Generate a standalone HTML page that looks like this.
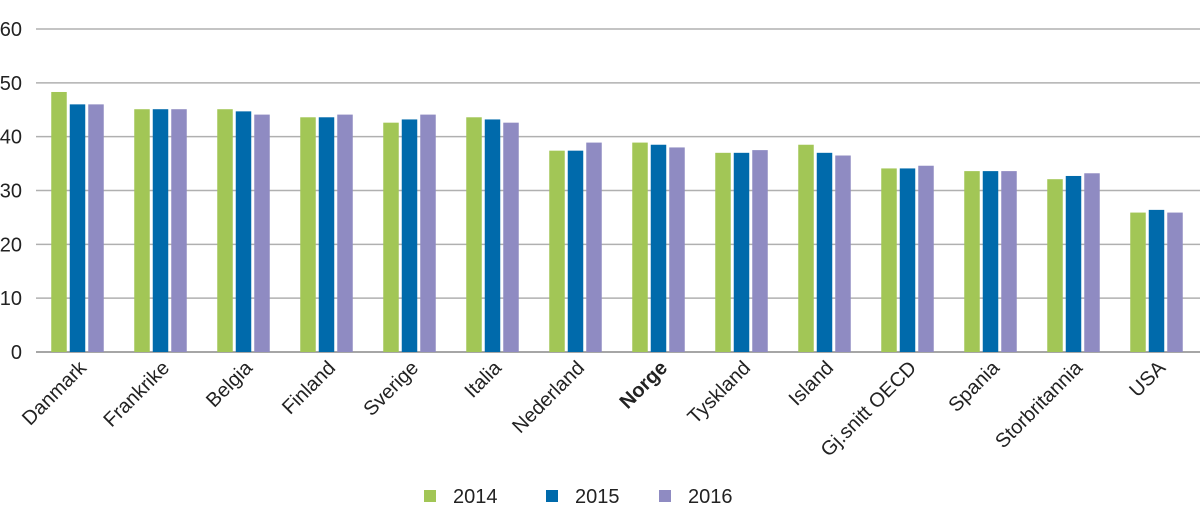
<!DOCTYPE html>
<html><head><meta charset="utf-8"><style>
body{margin:0;background:#fff}
svg{display:block;font-family:"Liberation Sans",Arial,sans-serif}
</style></head><body>
<svg id="chart" width="1200" height="526" viewBox="0 0 1200 526" xmlns="http://www.w3.org/2000/svg">
<g id="grid"></g><g id="bars"></g><g id="xlabels"></g><g id="legend"></g>
</svg>
<script>
const categories=["Danmark","Frankrike","Belgia","Finland","Sverige","Italia","Nederland","Norge","Tyskland","Island","Gj.snitt OECD","Spania","Storbritannia","USA"];
const s2014=[48.3,45.1,45.1,43.6,42.6,43.6,37.4,38.9,37.0,38.5,34.1,33.6,32.1,25.9];
const s2015=[46.0,45.1,44.7,43.6,43.2,43.2,37.4,38.5,37.0,37.0,34.1,33.6,32.7,26.4];
const s2016=[46.0,45.1,44.1,44.1,44.1,42.6,38.9,38.0,37.5,36.5,34.6,33.6,33.2,25.9];
const seriesNames=["2014","2015","2016"];
const yTicks=[0,10,20,30,40,50,60];
const colors=["#a2c656","#006aab","#8f8bc2"];
const NS="http://www.w3.org/2000/svg";
const left=36,right=1198,y0=352,y60=29;
const y=v=>y0-(v/60)*(y0-y60);
const cw=(right-left)/categories.length;
const xc=i=>left+cw*(i+0.5);
function mk(t,a,p){const e=document.createElementNS(NS,t);for(const k in a)e.setAttribute(k,a[k]);p.appendChild(e);return e;}
const grid=document.getElementById('grid');
yTicks.forEach(t=>{
 const l=mk('line',{x1:left,x2:1200,y1:y(t),y2:y(t),stroke:t===0?'#888':'#b0b0b0','stroke-width':1.5},grid);
 
 
 const tx=mk('text',{x:22,y:y(t)+7,'text-anchor':'end','font-size':20,fill:'#222'},grid);
 tx.textContent=t;
 
 
});
const bars=document.getElementById('bars');
const series=[s2014,s2015,s2016];
const bw=15.5,gap=3;
series.forEach((s,si)=>{
 s.forEach((v,i)=>{
  const x=xc(i)-(3*bw+2*gap)/2+si*(bw+gap);
  const r=mk('rect',{x:x,y:y(v),width:bw,height:y0-y(v),fill:colors[si]},bars);
  
  
 });
});
const xl=document.getElementById('xlabels');
categories.forEach((c,i)=>{
 const px=xc(i)+10,py=369;
 const t=mk('text',{x:px,y:py,'text-anchor':'end','font-size':20,fill:'#222',transform:`rotate(-45 ${px} ${py})`},xl);
 if(c==='Norge')t.setAttribute('font-weight','bold');
 t.textContent=c;
 
 
});
const lg=document.getElementById('legend');
const lx=[424,546,659];
seriesNames.forEach((n,i)=>{
 const r=mk('rect',{x:lx[i],y:490,width:12,height:12,fill:colors[i]},lg);
 
 
 const t=mk('text',{x:lx[i]+29,y:503,'font-size':20,fill:'#222'},lg);
 t.textContent=n;
 
 
});
</script>
</body></html>
